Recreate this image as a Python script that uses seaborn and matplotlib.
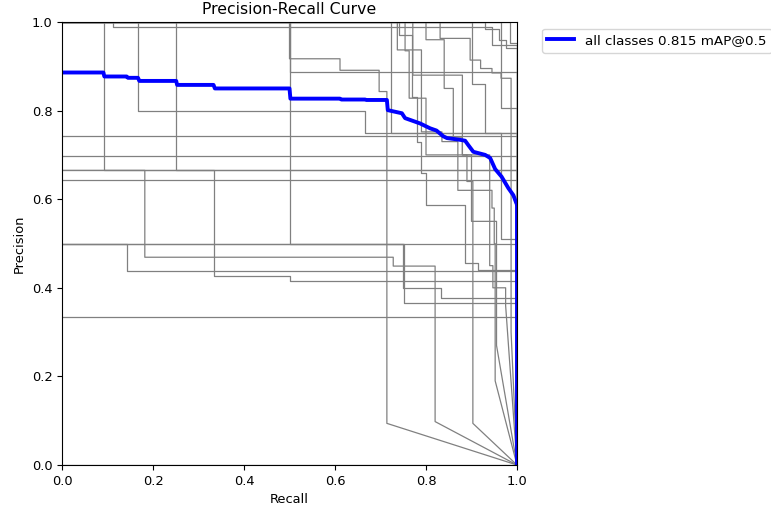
import matplotlib
matplotlib.use("Agg")
import matplotlib.pyplot as plt
import numpy as np
import pandas as pd
import seaborn as sns

# Per-class precision envelopes: precision levels and the recall at which each level ends.
# After the last level the curve runs straight to (recall=1, precision=0).
class_levels = [
    [1.0, 0.667],
    [1.0, 0.80, 0.749],
    [1.0, 0.667],
    [1.0, 0.5],
    [1.0, 0.988, 0.947],
    [0.742],
    [0.698],
    [0.643],
    [0.665, 0.469, 0.449, 0.098],
    [0.665, 0.427, 0.415],
    [0.5, 0.437],
    [0.5, 0.40, 0.376],
    [0.5, 0.365],
    [0.335],
    [1.0, 0.917, 0.891, 0.843, 0.094],
    [1.0, 0.888],
    [1.0, 0.75],
    [1.0, 0.937, 0.752, 0.73, 0.62, 0.58, 0.50, 0.19],
    [1.0, 0.96, 0.85, 0.74, 0.70, 0.64, 0.094],
    [1.0, 0.97, 0.83, 0.73, 0.66, 0.588, 0.457, 0.441],
    [1.0, 0.963, 0.914, 0.895, 0.885, 0.873, 0.30],
    [1.0, 0.953],
    [1.0, 0.985, 0.96, 0.941],
    [1.0, 0.806],
    [1.0, 0.86, 0.75, 0.51],
    [0.0],
    [1.0, 0.935, 0.828, 0.70, 0.55, 0.27],
    [1.0, 0.88, 0.70, 0.45, 0.40, 0.36],
]
class_edges = [
    [0.092, 1.0],
    [0.166, 0.667, 1.0],
    [0.25, 1.0],
    [0.5, 1.0],
    [0.112, 0.944, 1.0],
    [1.0],
    [1.0],
    [1.0],
    [0.182, 0.728, 0.82, 0.82],
    [0.333, 0.5, 1.0],
    [0.143, 1.0],
    [0.75, 0.834, 1.0],
    [0.752, 1.0],
    [1.0],
    [0.5, 0.611, 0.697, 0.714, 0.714],
    [0.5, 1.0],
    [0.722, 1.0],
    [0.737, 0.79, 0.835, 0.87, 0.945, 0.95, 0.952, 0.952],
    [0.80, 0.84, 0.86, 0.88, 0.89, 0.903, 0.903],
    [0.741, 0.77, 0.78, 0.79, 0.80, 0.885, 0.915, 1.0],
    [0.831, 0.897, 0.92, 0.945, 0.965, 0.987, 0.987],
    [0.985, 1.0],
    [0.93, 0.96, 0.975, 1.0],
    [0.965, 1.0],
    [0.90, 0.93, 0.965, 1.0],
    [1.0],
    [0.754, 0.763, 0.80, 0.90, 0.955, 0.955],
    [0.771, 0.88, 0.94, 0.947, 0.975, 0.975],
]

# Mean precision over all classes
mean_recall = [0.0, 0.091, 0.093, 0.142, 0.145, 0.167, 0.170, 0.251, 0.253, 0.333,
               0.336, 0.5, 0.502, 0.611, 0.614, 0.666, 0.669, 0.714, 0.716, 0.747,
               0.754, 0.787, 0.801, 0.809, 0.823, 0.838, 0.846, 0.875, 0.886, 0.893,
               0.904, 0.930, 0.941, 0.952, 0.966, 0.981, 0.992, 0.999, 1.0, 1.0]
mean_precision = [0.886, 0.886, 0.877, 0.877, 0.874, 0.874, 0.867, 0.867, 0.858, 0.858,
                  0.850, 0.850, 0.827, 0.827, 0.825, 0.825, 0.824, 0.824, 0.801, 0.794,
                  0.783, 0.771, 0.764, 0.760, 0.755, 0.742, 0.738, 0.734, 0.732, 0.722,
                  0.707, 0.700, 0.693, 0.668, 0.651, 0.625, 0.609, 0.590, 0.589, 0.0]
map50 = 0.815


def step_path(levels, edges):
    rec, prec = [0.0], [levels[0]]
    for i, (lv, e) in enumerate(zip(levels, edges)):
        if i > 0:
            rec.append(edges[i - 1])
            prec.append(lv)
        rec.append(e)
        prec.append(lv)
    rec.append(1.0)
    prec.append(0.0)
    return rec, prec


rows = []
for k, (lv, ed) in enumerate(zip(class_levels, class_edges)):
    rec, prec = step_path(lv, ed)
    for j, (r, p) in enumerate(zip(rec, prec)):
        rows.append({"cls": k, "order": j, "recall": r, "precision": p})
df = pd.DataFrame(rows)

plt.rcParams["font.family"] = ["DejaVu Sans"]
fig = plt.figure(figsize=(7.71, 5.08), dpi=100)
ax = fig.add_axes([62 / 771, 43 / 508, 455 / 771, 443 / 508])

sns.lineplot(data=df, x="recall", y="precision", units="cls", estimator=None,
             sort=False, color="grey", linewidth=0.9, ax=ax)
sns.lineplot(x=mean_recall, y=mean_precision, estimator=None, sort=False,
             color="blue", linewidth=2.8, ax=ax,
             label="all classes %.3f mAP@0.5" % map50)

ax.set_xlim(0, 1)
ax.set_ylim(0, 1)
ax.set_xticks(np.arange(0, 1.01, 0.2))
ax.set_yticks(np.arange(0, 1.01, 0.2))
ax.tick_params(labelsize=9.4)
ax.set_xlabel("Recall", fontsize=9.4)
ax.set_ylabel("Precision", fontsize=9.4)
ax.set_title("Precision-Recall Curve", fontsize=11.3)
ax.legend(bbox_to_anchor=(1.04, 1), loc="upper left", fontsize=9.7)

fig.savefig("out.png", dpi=100)
